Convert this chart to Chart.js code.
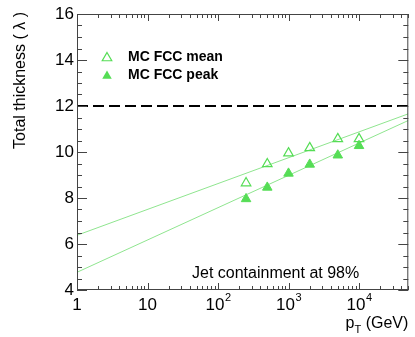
<!DOCTYPE html>
<html>
<head>
<meta charset="utf-8">
<script src="https://cdn.jsdelivr.net/npm/chart.js@4/dist/chart.umd.min.js"></script>
<style>
    body { margin: 0; background: #fff; }
</style>
</head>
<body>
<canvas id="chart" width="415" height="337"></canvas>
<script>
// pT points (GeV) and thickness values
const ptValues = [250, 500, 1000, 2000, 5000, 10000];
const meanValues = [8.65, 9.48, 9.95, 10.18, 10.57, 10.57];
const peakValues = [7.96, 8.46, 9.07, 9.46, 9.86, 10.27];

// fitted lines, ends at the plot edges
const fitX = [1, 50000];
const meanFit = [6.38, 11.66];
const peakFit = [4.77, 11.37];

const limitX = [1, 50000];
const limitY = [12, 12];

const xTickLabels = [["1", ""], ["10", ""], ["10", "2"], ["10", "3"], ["10", "4"]];
const xTickValues = [1, 10, 100, 1000, 10000];

const legendLabels = ["MC FCC mean", "MC FCC peak"];

const FONT = "'Liberation Sans', Arial, Helvetica, sans-serif";
const markerGreen = "#55dd55";
const lineGreen = "#8fe58f";

function pts(xs, ys) {
    return xs.map((x, i) => ({ x: x, y: ys[i] }));
}

function triangle(ctx, x, y, r, filled) {
    ctx.beginPath();
    ctx.moveTo(x, y - r);
    ctx.lineTo(x + r * Math.sin(Math.PI * 2 / 3), y + r / 2);
    ctx.lineTo(x - r * Math.sin(Math.PI * 2 / 3), y + r / 2);
    ctx.closePath();
    if (filled) {
        ctx.fillStyle = markerGreen;
        ctx.fill();
    } else {
        ctx.strokeStyle = markerGreen;
        ctx.lineWidth = 1.2;
        ctx.stroke();
    }
}

const framePlugin = {
    id: "frame",
    afterDraw(chart) {
        const ctx = chart.ctx;
        const a = chart.chartArea;
        const xs = chart.scales.x;
        const ys = chart.scales.y;
        ctx.save();

        // frame
        ctx.strokeStyle = "#444";
        ctx.lineWidth = 1;
        ctx.strokeRect(a.left + 0.5, a.top + 0.5, a.right - a.left - 1, a.bottom - a.top - 1);

        // y ticks on both sides
        ctx.beginPath();
        for (let v = 4; v <= 16; v += 0.5) {
            let py = Math.round(ys.getPixelForValue(v)) + 0.5;
            let len = v % 2 === 0 ? 10 : 5;
            ctx.moveTo(a.left, py); ctx.lineTo(a.left + len, py);
            ctx.moveTo(a.right, py); ctx.lineTo(a.right - len, py);
        }
        // x ticks on both sides (log)
        for (let d = 0; d <= 4; d++) {
            for (let m = 1; m <= 9; m++) {
                let val = m * Math.pow(10, d);
                if (val > xs.max) break;
                let px = Math.round(xs.getPixelForValue(val)) + 0.5;
                let len = m === 1 ? 7 : 4;
                ctx.moveTo(px, a.bottom); ctx.lineTo(px, a.bottom - len);
                ctx.moveTo(px, a.top); ctx.lineTo(px, a.top + len);
            }
        }
        ctx.stroke();

        ctx.fillStyle = "#000";

        // x tick labels with superscript exponent
        xTickValues.forEach((v, i) => {
            let px = xs.getPixelForValue(v);
            let base = xTickLabels[i][0], exp = xTickLabels[i][1];
            ctx.font = "17px " + FONT;
            let wb = ctx.measureText(base).width;
            ctx.font = "11px " + FONT;
            let we = exp ? ctx.measureText(exp).width : 0;
            let x0 = px - (wb + we) / 2;
            ctx.textAlign = "left";
            ctx.textBaseline = "middle";
            ctx.font = "17px " + FONT;
            ctx.fillText(base, x0, 305);
            if (exp) {
                ctx.font = "11px " + FONT;
                ctx.fillText(exp, x0 + wb + 0.5, 298);
            }
        });

        // x title p_T (GeV), right aligned
        ctx.font = "16px " + FONT;
        let tail = " (GeV)";
        let wt = ctx.measureText(tail).width;
        let wp = ctx.measureText("p").width;
        ctx.font = "11px " + FONT;
        let ws = ctx.measureText("T").width;
        let xr = a.right;
        ctx.textAlign = "left";
        ctx.textBaseline = "middle";
        ctx.font = "16px " + FONT;
        ctx.fillText(tail, xr - wt, 324);
        ctx.fillText("p", xr - wt - ws - wp, 324);
        ctx.font = "11px " + FONT;
        ctx.fillText("T", xr - wt - ws, 330);

        // y title, top aligned
        ctx.save();
        ctx.translate(21, 12);
        ctx.rotate(-Math.PI / 2);
        ctx.font = "16px " + FONT;
        ctx.textAlign = "right";
        ctx.textBaseline = "middle";
        ctx.fillText("Total thickness ( \u03bb )", 0, 0);
        ctx.restore();

        // legend
        triangle(ctx, 107, 58, 5.5, false);
        triangle(ctx, 107, 76, 5.5, true);
        ctx.fillStyle = "#000";
        ctx.font = "bold 14px " + FONT;
        ctx.textAlign = "left";
        ctx.textBaseline = "middle";
        ctx.fillText(legendLabels[0], 128, 57);
        ctx.fillText(legendLabels[1], 128, 75);

        // annotation
        ctx.font = "16px " + FONT;
        ctx.textBaseline = "alphabetic";
        ctx.fillText("Jet containment at 98%", 192, 278);

        ctx.restore();
    }
};

new Chart(document.getElementById("chart"), {
    type: "scatter",
    data: {
        datasets: [
            {
                label: legendLabels[1],
                data: pts(ptValues, peakValues),
                pointStyle: "triangle",
                pointRadius: 5.5,
                backgroundColor: markerGreen,
                borderColor: markerGreen,
                borderWidth: 1
            },
            {
                label: legendLabels[0],
                data: pts(ptValues, meanValues),
                pointStyle: "triangle",
                pointRadius: 5.5,
                backgroundColor: "rgba(0,0,0,0)",
                borderColor: markerGreen,
                borderWidth: 1.2
            },
            {
                type: "line",
                data: pts(limitX, limitY),
                borderColor: "#000",
                borderWidth: 2,
                borderDash: [11, 5],
                pointRadius: 0
            },
            {
                type: "line",
                data: pts(fitX, meanFit),
                borderColor: lineGreen,
                borderWidth: 1,
                pointRadius: 0
            },
            {
                type: "line",
                data: pts(fitX, peakFit),
                borderColor: lineGreen,
                borderWidth: 1,
                pointRadius: 0
            }
        ]
    },
    options: {
        responsive: false,
        animation: false,
        layout: { padding: { left: 0, right: 3, top: 14, bottom: 0 } },
        plugins: {
            legend: { display: false },
            tooltip: { enabled: false }
        },
        scales: {
            x: {
                type: "logarithmic",
                min: 1,
                max: 50000,
                grid: { display: false, drawTicks: false },
                border: { display: false },
                ticks: { display: false },
                afterFit(scale) { scale.height = 47; }
            },
            y: {
                min: 4,
                max: 16,
                grid: { display: false, drawTicks: false },
                border: { display: false },
                ticks: {
                    stepSize: 2,
                    padding: 3,
                    color: "#000",
                    font: { size: 17, family: FONT }
                },
                afterFit(scale) { scale.width = 77; }
            }
        }
    },
    plugins: [framePlugin]
});
</script>
</body>
</html>
